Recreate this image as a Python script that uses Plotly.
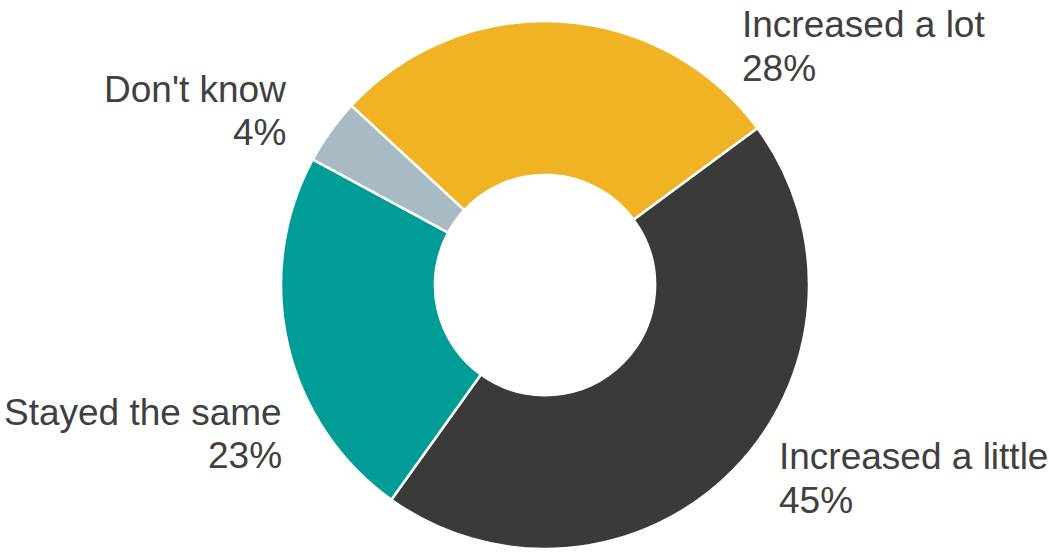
import plotly.graph_objects as go

labels = ["Increased a lot", "Increased a little", "Stayed the same", "Don't know"]
values = [28, 45, 23, 4]
colors = ["#EFB324", "#3A3B39", "#009D96", "#A8BAC3"]

# label placement in pixels: anchor x, first-line baseline, second-line baseline, side
label_pos = [
    (740, 37, 81, "left"),
    (777, 469, 513, "left"),
    (284, 425, 468, "right"),
    (288, 102, 145, "right"),
]

W, H = 1049, 552
FONT_SIZE = 37

fig = go.Figure()
fig.add_trace(go.Pie(
    labels=labels,
    values=values,
    sort=False,
    direction="clockwise",
    rotation=-47.2,
    hole=0.417,
    marker=dict(colors=colors, line=dict(color="white", width=2.5)),
    textinfo="none",
    showlegend=False,
    domain=dict(x=[281 / W, 809 / W], y=[3 / H, 531 / H]),
))

total = sum(values)
for lab, val, (x, b1, b2, side) in zip(labels, values, label_pos):
    for txt, base in ((lab, b1), (f"{round(val / total * 100)}%", b2)):
        fig.add_annotation(
            x=x / W, y=1 - (base - 0.33 * FONT_SIZE) / H,
            xref="paper", yref="paper",
            xanchor=side, yanchor="middle", align=side,
            text=txt, showarrow=False,
            font=dict(family="Liberation Sans, Arial, sans-serif", size=FONT_SIZE, color="#404040"),
        )

fig.update_layout(
    width=W, height=H,
    margin=dict(l=0, r=0, t=0, b=0),
    paper_bgcolor="white",
    plot_bgcolor="white",
)

fig.write_html("out.html")
